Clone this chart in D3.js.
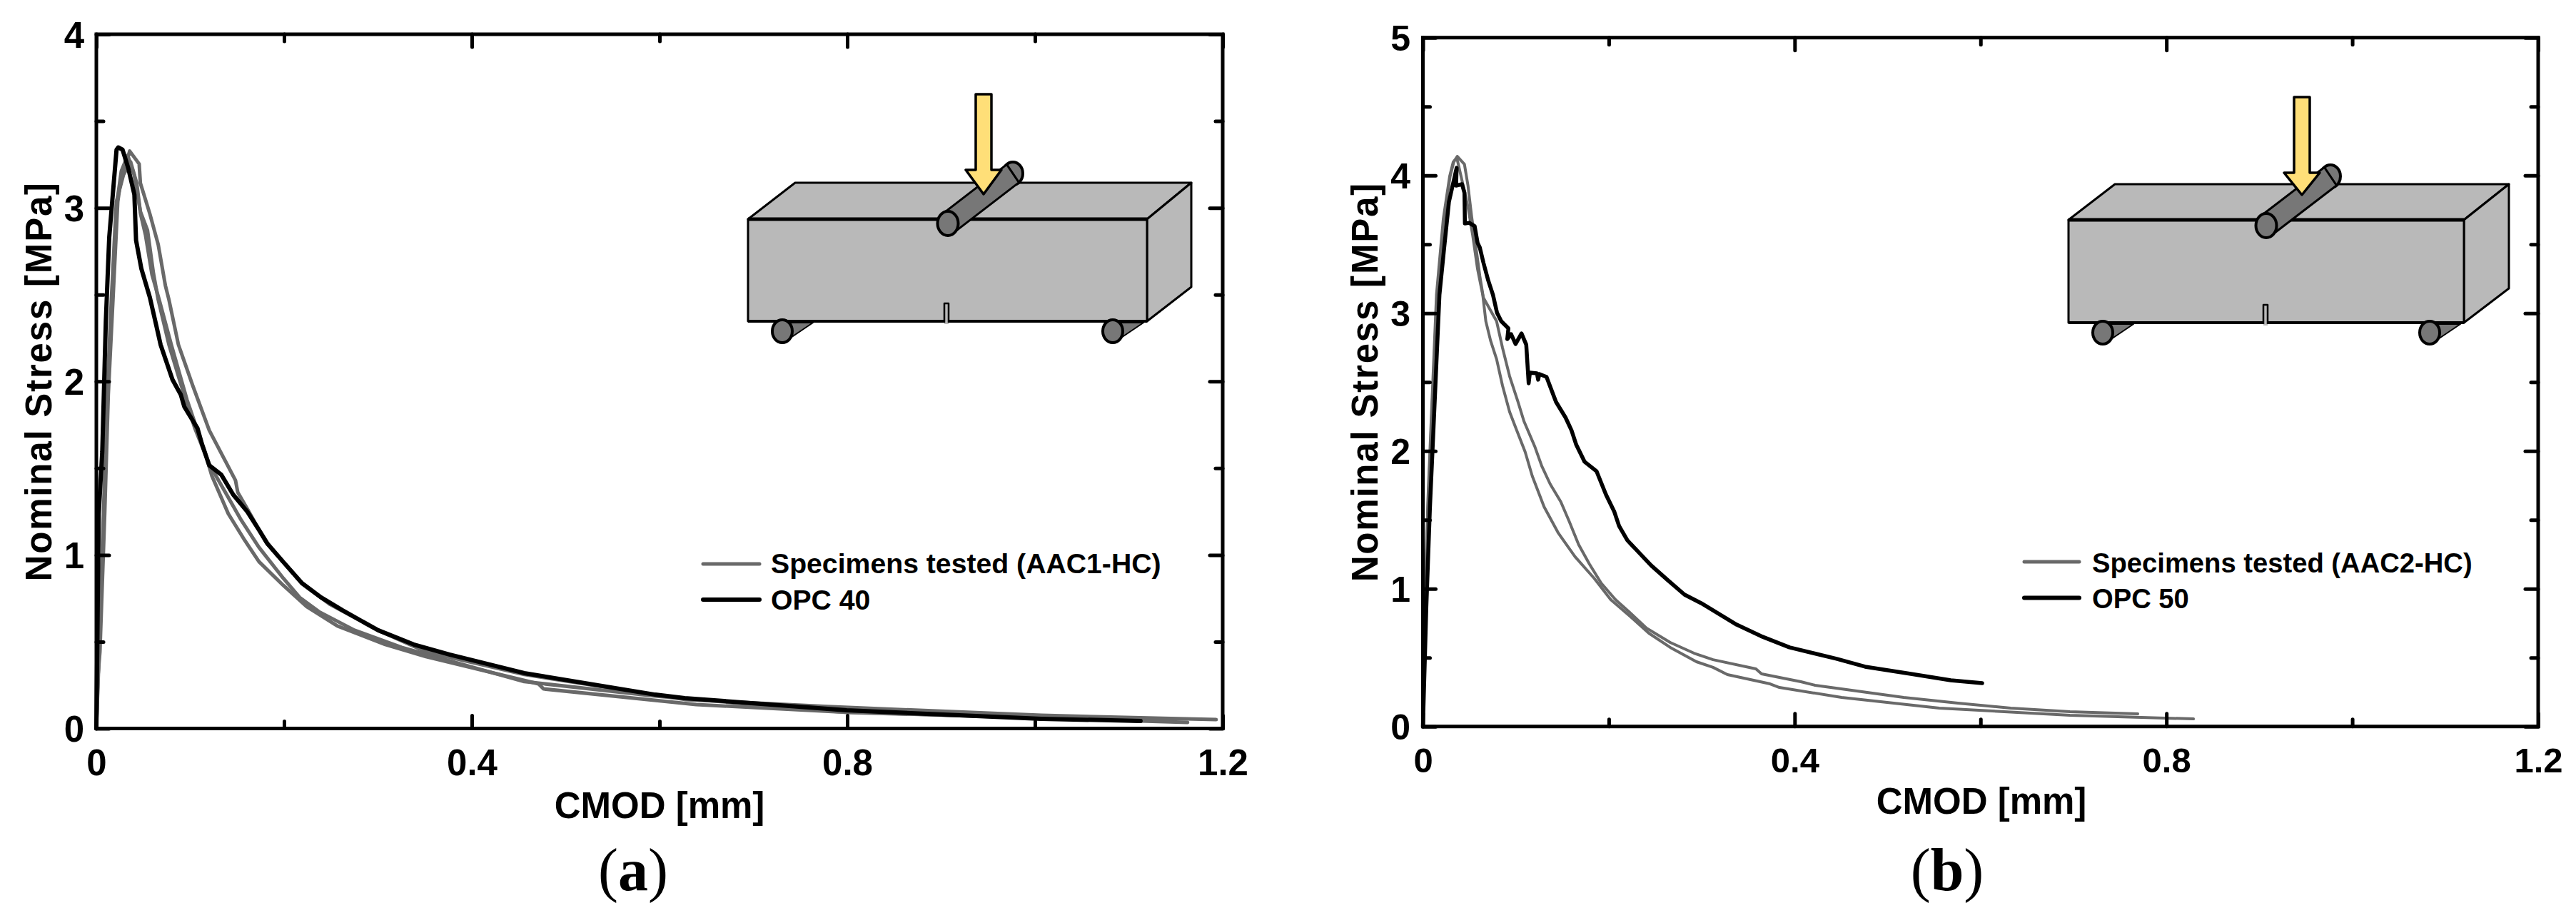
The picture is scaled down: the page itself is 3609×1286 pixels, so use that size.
<!DOCTYPE html>
<html><head><meta charset="utf-8">
<script src="https://cdn.jsdelivr.net/npm/d3@7"></script>
<style>
html,body{margin:0;padding:0;background:#fff}
svg{display:block}
text{font-family:"Liberation Sans",Arial,sans-serif;font-weight:700;fill:#000}
</style></head><body>
<svg id="c" width="3609" height="1286"></svg>
<script>
// ---- Data: [CMOD mm, nominal stress MPa] ----
const xMajor=[0,0.4,0.8,1.2], xMinor=[0.2,0.6,1.0];
const xLabels=["0","0.4","0.8","1.2"];
const yMajorA=[0,1,2,3,4], yMinorA=[0.5,1.5,2.5,3.5];
const yMajorB=[0,1,2,3,4,5], yMinorB=[0.5,1.5,2.5,3.5,4.5];
const legendA=["Specimens tested (AAC1-HC)","OPC 40"];
const legendB=["Specimens tested (AAC2-HC)","OPC 50"];

const opc40=[[0,0],[.0025,1.237],[.0063,1.595],[.0101,2.348],[.0137,2.829],[.0215,3.335],[.0233,3.348],[.0279,3.335],[.0342,3.224],[.0405,3.076],[.0423,2.813],[.048,2.648],[.057,2.484],[.0633,2.335],[.0684,2.212],[.0811,2.01],[.0899,1.924],[.0937,1.854],[.1077,1.73],[.1127,1.636],[.1203,1.516],[.133,1.463],[.1457,1.348],[.1609,1.249],[.1735,1.142],[.1824,1.064],[.1989,.961],[.2191,.837],[.2394,.755],[.2622,.681],[.3002,.566],[.3381,.484],[.3761,.426],[.4559,.319],[.5954,.195],[.6269,.175],[.7994,.105],[1.0068,.056],[1.1125,.043]];
const aac1s1=[[0,0],[.0015,.29],[.0038,.442],[.0089,1.237],[.0127,1.924],[.0177,2.471],[.0228,3.035],[.0253,3.13],[.0304,3.228],[.0355,3.327],[.0456,3.253],[.0469,3.142],[.057,2.965],[.0659,2.788],[.0735,2.553],[.0773,2.471],[.0874,2.212],[.1026,1.977],[.1203,1.718],[.1482,1.43],[.1507,1.36],[.1609,1.265],[.1809,1.072],[.219,.837],[.2492,.714],[.3002,.566],[.3511,.442],[.4559,.311],[.6269,.167],[.7789,.126],[1.0068,.076],[1.193,.051]];
const aac1s2=[[0,0],[.003,.442],[.0081,1.237],[.0119,1.924],[.0167,2.471],[.022,3.035],[.0266,3.212],[.0334,3.302],[.0403,3.191],[.0469,2.978],[.0545,2.87],[.0608,2.623],[.0659,2.471],[.0773,2.212],[.0897,1.99],[.1049,1.73],[.1201,1.525],[.1406,1.331],[.1535,1.208],[.1733,1.043],[.1991,.866],[.2166,.755],[.2371,.673],[.2751,.566],[.3252,.467],[.4559,.27],[.595,.187],[.7994,.093],[1.0068,.06],[1.1436,.043]];
const aac1s3=[[0,0],[.0027,.442],[.0076,1.237],[.0114,1.924],[.016,2.471],[.0213,3.035],[.0289,3.191],[.0365,3.265],[.043,3.142],[.0471,2.965],[.0524,2.842],[.0593,2.615],[.0669,2.471],[.0798,2.212],[.0965,1.895],[.1155,1.595],[.1231,1.455],[.1406,1.237],[.1581,1.084],[.1733,.961],[.1991,.825],[.2242,.702],[.2568,.591],[.3078,.484],[.3511,.414],[.4711,.257],[.4764,.228],[.6391,.138],[.7872,.097],[.9878,.064],[1.1626,.035]];

const opc50=[[0,0],[.0037,.869],[.0075,1.579],[.0114,2.164],[.0178,3.133],[.0229,3.475],[.028,3.807],[.0332,3.962],[.0363,4.055],[.0357,3.926],[.0421,3.936],[.0447,3.874],[.0452,3.651],[.0498,3.656],[.0557,3.631],[.0588,3.511],[.0613,3.475],[.0651,3.367],[.0703,3.237],[.0754,3.133],[.0797,3.004],[.0843,2.941],[.092,2.89],[.0908,2.812],[.0949,2.848],[.0997,2.776],[.1061,2.853],[.1112,2.771],[.1138,2.491],[.1151,2.568],[.1227,2.563],[.124,2.517],[.1253,2.558],[.133,2.537],[.1432,2.356],[.1535,2.242],[.1599,2.149],[.165,2.045],[.174,1.921],[.1868,1.853],[.197,1.682],[.206,1.558],[.2111,1.455],[.22,1.351],[.2456,1.169],[.2636,1.061],[.2815,.957],[.2994,.895],[.3376,.739],[.3637,.656],[.3944,.574],[.4451,.491],[.4758,.434],[.525,.382],[.568,.335],[.6018,.315]];
const aac2s1=[[0,0],[.0023,.869],[.0058,1.646],[.0096,2.268],[.0152,3.133],[.0229,3.682],[.0255,3.822],[.0293,3.993],[.0332,4.097],[.037,4.138],[.0447,4.081],[.0485,3.926],[.0524,3.703],[.0567,3.496],[.0613,3.268],[.0651,3.112],[.0793,2.941],[.0856,2.75],[.0933,2.542],[.1023,2.356],[.1087,2.216],[.1202,2.035],[.1279,1.89],[.1369,1.76],[.1484,1.631],[.1573,1.491],[.1676,1.32],[.1791,1.18],[.1919,1.04],[.2072,.921],[.2226,.827],[.2406,.714],[.2661,.61],[.2917,.532],[.3122,.485],[.3583,.418],[.3644,.382],[.4067,.325],[.422,.299],[.5173,.211],[.5757,.169],[.6325,.133],[.6962,.107],[.7692,.092]];
const aac2s2=[[0,0],[.0019,.869],[.0054,1.646],[.0092,2.268],[.0146,3.133],[.0219,3.682],[.025,3.822],[.0288,3.993],[.0326,4.097],[.0365,4.128],[.0421,3.962],[.0485,3.771],[.0536,3.563],[.0588,3.32],[.0644,3.133],[.0677,2.941],[.0728,2.801],[.0793,2.666],[.0856,2.475],[.0933,2.283],[.101,2.149],[.11,1.993],[.1177,1.817],[.1304,1.594],[.1458,1.403],[.1637,1.232],[.1842,1.076],[.2021,.921],[.2226,.802],[.2431,.677],[.2661,.574],[.2943,.47],[.3122,.429],[.3276,.377],[.3736,.309],[.3836,.283],[.4505,.211],[.5557,.133],[.6962,.081],[.8291,.055]];

const GRAY="#696969", BOX="#b9b9b9", ROD="#777777", ARROW="#ffdf78";
const svg=d3.select("#c");

function panel(o){
  const x=d3.scaleLinear().domain([0,1.2]).range([o.left,o.right]);
  const y=d3.scaleLinear().domain([0,o.yMax]).range([o.bottom,o.top]);
  const g=svg.append("g");
  const line=d3.line().x(d=>x(d[0])).y(d=>y(d[1]));

  // Inset sketch (behind curves)
  inset(g,o.inset);

  // curves
  o.gray.forEach(s=>g.append("path").attr("d",line(s)).attr("fill","none").attr("stroke",GRAY)
    .attr("stroke-width",o.grayW).attr("stroke-linejoin","round").attr("stroke-linecap","round"));
  g.append("path").attr("d",line(o.black)).attr("fill","none").attr("stroke","#000")
    .attr("stroke-width",o.blackW).attr("stroke-linejoin","round").attr("stroke-linecap","round");

  // frame and axes with inward ticks
  function style(sel,w){
    sel.selectAll(".domain").remove();
    sel.selectAll("line").attr("stroke","#000").attr("stroke-width",w).attr("stroke-linecap","round");
  }
  const mk=(gen,major,minor,tx,ty,fmt)=>{
    const a=g.append("g").attr("transform",`translate(${tx},${ty})`)
      .call(gen.tickValues(major).tickSize(-18).tickPadding(0).tickFormat(fmt||""));
    style(a,5);
    const b=g.append("g").attr("transform",`translate(${tx},${ty})`)
      .call(gen.tickValues(minor).tickSize(-10).tickFormat(""));
    style(b,5);
    return a;
  };
  const bottomAxis=mk(d3.axisBottom(x),xMajor,xMinor,0,o.bottom,(d,i)=>xLabels[i]);
  mk(d3.axisTop(x),xMajor,xMinor,0,o.top);
  const leftAxis=mk(d3.axisLeft(y),o.yMajor,o.yMinor,o.left,0,d3.format("d"));
  mk(d3.axisRight(y),o.yMajor,o.yMinor,o.right,0);

  bottomAxis.selectAll("text").attr("font-size",o.xFont)
    .attr("y",o.xLabelBase-o.bottom).attr("dy",0);
  leftAxis.selectAll("text").attr("font-size",o.yFont).attr("x",o.yLabelRight-o.left).attr("dy","0.36em");
  bottomAxis.attr("font-family",null); leftAxis.attr("font-family",null);

  g.append("rect").attr("x",x(0)).attr("y",y(o.yMax)).attr("width",x(1.2)-x(0)).attr("height",y(0)-y(o.yMax))
    .attr("fill","none").attr("stroke","#000").attr("stroke-width",o.frameW);

  // titles
  g.append("text").attr("x",o.xTitleX).attr("y",o.xTitleBase).attr("text-anchor","middle")
    .attr("font-size",51).text("CMOD [mm]");
  g.append("text").attr("transform",`translate(${o.yTitleBase},${(o.top+o.bottom)/2}) rotate(-90)`)
    .attr("text-anchor","middle").attr("font-size",51).attr("letter-spacing",o.yTitleSpacing)
    .text("Nominal Stress [MPa]");

  // legend
  o.legend.forEach((t,i)=>{
    g.append("line").attr("x1",o.lgX1).attr("x2",o.lgX2).attr("y1",o.lgY[i]).attr("y2",o.lgY[i])
      .attr("stroke",i?"#000":GRAY).attr("stroke-width",i?6:5).attr("stroke-linecap","round");
    g.append("text").attr("x",o.lgTextX).attr("y",o.lgBase[i]).attr("font-size",o.lgFont).text(t);
  });

  // caption
  const cap=g.append("text").attr("x",o.capX).attr("y",1247).attr("text-anchor","middle")
    .style("font-family",'"Liberation Serif",serif').style("font-weight",400).attr("font-size",84);
  cap.append("tspan").text("(");
  cap.append("tspan").style("font-weight",700).text(o.cap);
  cap.append("tspan").text(")");
}

function inset(g,s){
  const k=g.append("g").attr("stroke","#000").attr("stroke-linejoin","round");
  const P=a=>a.map(p=>p.join(",")).join(" ");
  // box
  k.append("polygon").attr("points",P([[s.fl,s.ft],[s.bl,s.bt],[s.br,s.bt],[s.fr,s.ft]])).attr("fill",BOX).attr("stroke-width",3);
  k.append("polygon").attr("points",P([[s.fr,s.ft],[s.br,s.bt],[s.br,s.bb],[s.fr,s.fb]])).attr("fill",BOX).attr("stroke-width",3);
  k.append("rect").attr("x",s.fl).attr("y",s.ft).attr("width",s.fr-s.fl).attr("height",s.fb-s.ft).attr("fill",BOX).attr("stroke-width",3);
  k.append("line").attr("x1",s.fl).attr("x2",s.fr).attr("y1",s.ft).attr("y2",s.ft).attr("stroke-width",5);
  k.append("line").attr("x1",s.fl).attr("x2",s.fr).attr("y1",s.fb).attr("y2",s.fb).attr("stroke-width",4);
  // notch: a gap in the bottom edge with two thin sides
  k.append("rect").attr("x",s.nx-3).attr("y",s.fb-4).attr("width",6).attr("height",8).attr("fill",BOX).attr("stroke","none");
  k.append("path").attr("d",`M${s.nx-3},${s.fb+2} V${s.fb-25} H${s.nx+3} V${s.fb+2}`)
    .attr("fill","none").attr("stroke-width",2.5);
  // rollers
  const roller=(cx,cy,bx,by,rx,ry)=>{
    const ang=Math.atan2(by-cy,bx-cx), nx=-Math.sin(ang)*rx, ny=Math.cos(ang)*ry;
    k.append("polygon").attr("points",P([[cx-nx,cy-ny],[bx-nx,by-ny],[bx+nx,by+ny],[cx+nx,cy+ny]]))
      .attr("fill",ROD).attr("stroke-width",3);
  };
  // bottom rollers
  [s.r1,s.r2].forEach(r=>{
    k.append("polygon").attr("points",P([[r,s.fb+2],[r+43,s.fb+2],[r+3,s.fb+29],[r,s.fb+29]])).attr("fill",ROD).attr("stroke-width",2);
    k.append("ellipse").attr("cx",r).attr("cy",s.fb+14).attr("rx",14).attr("ry",16).attr("fill",ROD).attr("stroke-width",4);
  });
  // top roller
  k.append("ellipse").attr("cx",s.tbx).attr("cy",s.tby).attr("rx",14).attr("ry",16).attr("fill",ROD).attr("stroke-width",4);
  roller(s.tfx,s.tfy,s.tbx,s.tby,14,16);
  k.append("ellipse").attr("cx",s.tfx).attr("cy",s.tfy).attr("rx",14.5).attr("ry",17).attr("fill",ROD).attr("stroke-width",4);
  // arrow
  const c=s.ax;
  k.append("polygon").attr("points",P([[c-11,s.at],[c+11,s.at],[c+11,s.ah],[c+25,s.ah],[c,s.atip],[c-25,s.ah],[c-11,s.ah]]))
    .attr("fill",ARROW).attr("stroke-width",3.5);
}

panel({left:135,right:1713,top:48,bottom:1020.5,yMax:4,yMajor:yMajorA,yMinor:yMinorA,
  gray:[aac1s2,aac1s3,aac1s1],black:opc40,grayW:5,blackW:6,frameW:5,
  xFont:51,yFont:51,xLabelBase:1086,yLabelRight:118,
  xTitleX:924,xTitleBase:1146,yTitleBase:72,yTitleSpacing:1.8,
  legend:legendA,lgX1:985,lgX2:1064,lgY:[790,840],lgBase:[803,854],lgTextX:1080,lgFont:39.2,
  capX:887,cap:"a",
  inset:{fl:1048,fr:1607,ft:307,fb:450,bl:1114,br:1669,bt:256,bb:402,nx:1326,r1:1096,r2:1559,
    tfx:1328,tfy:313,tbx:1419,tby:243,ax:1378,at:132,ah:238,atip:272}});

panel({left:1993.5,right:3556,top:52.7,bottom:1017.7,yMax:5,yMajor:yMajorB,yMinor:yMinorB,
  gray:[aac2s1,aac2s2],black:opc50,grayW:4,blackW:5.5,frameW:5,
  xFont:49,yFont:50,xLabelBase:1082,yLabelRight:1976,
  xTitleX:2776,xTitleBase:1140,yTitleBase:1930,yTitleSpacing:1.8,
  legend:legendB,lgX1:2836,lgX2:2913,lgY:[787,837.5],lgBase:[802,851.5],lgTextX:2931,lgFont:38.2,
  capX:2728,cap:"b",
  inset:{fl:2898,fr:3452,ft:308,fb:452,bl:2963,br:3515,bt:258,bb:404,nx:3174,r1:2946,r2:3404,
    tfx:3175,tfy:316,tbx:3265,tby:247,ax:3225,at:136,ah:242,atip:273}});
</script>
</body></html>
